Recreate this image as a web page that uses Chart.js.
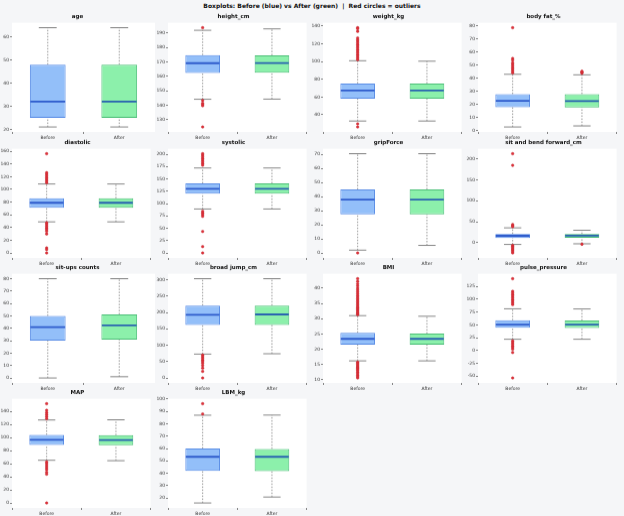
<!DOCTYPE html>
<html>
<head>
<meta charset="utf-8">
<script src="https://cdn.jsdelivr.net/npm/chart.js@4.4.1/dist/chart.umd.min.js"></script>
<style>
  body { margin: 0; width: 624px; height: 516px; overflow: hidden; position: relative; background: #f5f6f8; font-family: "DejaVu Sans", sans-serif; }
  #title { position: absolute; top: 0; left: 0; width: 624px; text-align: center; font-weight: bold; font-size: 6px; line-height: 11px; color: #111; white-space: pre; }
  canvas { position: absolute; }
</style>
</head>
<body>
<div id="title">Boxplots: Before (blue) vs After (green)  |  Red circles = outliers</div>
<script>
const groups = ["Before", "After"];
const titles = ["age", "height_cm", "weight_kg", "body fat_%",
                "diastolic", "systolic", "gripForce", "sit and bend forward_cm",
                "sit-ups counts", "broad jump_cm", "BMI", "pulse_pressure",
                "MAP", "LBM_kg"];

// [lower whisker, Q1, median, Q3, upper whisker]
const beforeBox = [
  [21, 25, 32, 48, 64],
  [144.2, 162.4, 169.2, 174.8, 192.0],
  [33.0, 58.2, 67.4, 75.3, 100.9],
  [3.0, 18.0, 22.8, 28.0, 43.0],
  [49, 71, 79, 86, 108.5],
  [89, 120, 130, 141, 172],
  [2.0, 27.5, 37.9, 45.2, 70.5],
  [-4.5, 10.9, 16.2, 20.7, 35.3],
  [0, 30, 41, 50, 80],
  [73, 162, 193, 221, 303],
  [16.2, 21.5, 23.4, 25.4, 31.0],
  [22, 44.5, 50.6, 59, 81.3],
  [65.2, 88.4, 96.5, 104, 126.7],
  [16, 42, 53.3, 60, 86.9]
];
const afterBox = [
  [21, 25, 32, 48, 64],
  [144.3, 162.5, 169.3, 174.7, 193.0],
  [33.0, 58.2, 67.3, 75.3, 100.4],
  [3.8, 17.8, 22.6, 28.0, 42.6],
  [49, 71, 79, 86, 108.5],
  [89, 120, 130, 141, 172],
  [5.4, 27.5, 37.9, 45.2, 70.5],
  [-3, 11.2, 16.5, 20.5, 29.5],
  [1, 31, 42.4, 51.3, 80],
  [74, 162, 194, 221, 303],
  [16.2, 21.5, 23.4, 25.1, 30.8],
  [22, 44, 50.6, 58.5, 81],
  [64.6, 88, 96, 103.5, 127],
  [20.8, 41.7, 53.3, 59.7, 87]
];

const beforeOut = [
  [],
  [193.8, 143.3, 141.5, 140.6, 139.7, 125.0],
  [138.1, 137.0, 134.0, 126.5, 124.6, 122.8, 120.9, 119.0, 117.2, 115.3, 113.4, 111.5, 109.7, 107.8, 105.9, 104.0, 102.2, 29.8, 26.3],
  [78.4, 55.0, 53.7, 51.7, 50.5, 49.2, 47.9, 46.7, 45.4, 44.1],
  [156.2, 126.3, 123.7, 121, 118.4, 115.8, 113.2, 110.5, 47.4, 44.7, 42.1, 39.5, 36.8, 34.2, 30, 7.9, 5.3, 0],
  [201, 198, 194.6, 191.2, 187.8, 184.4, 181, 177.6, 84.4, 81, 77.6, 74.1, 43.5, 12.9, 0],
  [0],
  [213, 185, 43, 40.5, 38, -7, -9, -12, -15, -18, -22, -25],
  [],
  [70, 65, 60, 55, 50, 45, 38, 30, 20, 0],
  [31.3, 31.6, 32, 32.4, 32.8, 33.2, 33.6, 34, 34.5, 35, 35.5, 36, 36.5, 37, 37.6, 38.2, 38.8, 39.4, 40, 40.7, 41.4, 42.2, 43.1,
   15.8, 15.4, 15, 14.6, 14.2, 13.8, 13.4, 13, 12.5, 12, 11.5, 11, 10.6],
  [140, 115.5, 112.3, 109, 105.8, 102.6, 99.4, 96.1, 92.9, 89.7, 18.7, 15.5, 12.3, 9, 5.8, 2.6, -3.9, -53.5],
  [151.6, 141.5, 138, 135, 132, 128.8, 62.6, 60, 57, 54, 51, 47, 44, 0],
  [96.2, 87.9]
];
const afterOut = [
  [], [], [], [43.8, 44.3, 44.8, 45.3], [], [], [], [-4], [], [], [], [], [], []
];

const yTicks = [
  [20, 30, 40, 50, 60],
  [130, 140, 150, 160, 170, 180, 190],
  [40, 60, 80, 100, 120, 140],
  [0, 10, 20, 30, 40, 50, 60, 70, 80],
  [0, 20, 40, 60, 80, 100, 120, 140, 160],
  [0, 25, 50, 75, 100, 125, 150, 175, 200],
  [0, 10, 20, 30, 40, 50, 60, 70],
  [0, 50, 100, 150, 200],
  [0, 10, 20, 30, 40, 50, 60, 70, 80],
  [0, 50, 100, 150, 200, 250, 300],
  [10, 15, 20, 25, 30, 35, 40],
  [-50, -25, 0, 25, 50, 75, 100, 125],
  [0, 20, 40, 60, 80, 100, 120, 140],
  [20, 30, 40, 50, 60, 70, 80, 90, 100]
];

const FONT = "'DejaVu Sans', sans-serif";
const fills = ["#93bff9", "#8cf0ab"];
const edges = ["#5a8de6", "#4cbf78"];
const medians = ["#2f5ccc", "#2a64b0"];

// grid geometry (plot areas)
const colLeft = [12, 168, 323, 478];
const rowTop = [23, 149, 274, 399];
const plotW = 142, plotH = 109;
const axisW = 12, titleH = 10.6, xAxisH = 9;

// whiskers, caps, medians and panel background
const boxParts = {
  id: "boxParts",
  beforeDraw(chart) {
    const a = chart.chartArea, ctx = chart.ctx;
    ctx.save();
    ctx.fillStyle = "#ffffff";
    ctx.fillRect(a.left, a.top, a.right - a.left, a.bottom - a.top);
    ctx.restore();
  },
  beforeDatasetsDraw(chart, args, opts) {
    const ctx = chart.ctx, y = chart.scales.y;
    const bars = chart.getDatasetMeta(0).data;
    ctx.save();
    opts.stats.forEach((s, j) => {
      const bx = bars[j].x, half = bars[j].width / 4;
      ctx.strokeStyle = "#9a9a9a";
      ctx.lineWidth = 1;
      ctx.setLineDash([1.5, 1.5]);
      ctx.beginPath();
      ctx.moveTo(bx, y.getPixelForValue(s[0]));
      ctx.lineTo(bx, y.getPixelForValue(s[1]));
      ctx.moveTo(bx, y.getPixelForValue(s[3]));
      ctx.lineTo(bx, y.getPixelForValue(s[4]));
      ctx.stroke();
      ctx.setLineDash([]);
      ctx.strokeStyle = "#888888";
      ctx.beginPath();
      [s[0], s[4]].forEach(v => {
        const py = y.getPixelForValue(v);
        ctx.moveTo(bx - half, py);
        ctx.lineTo(bx + half, py);
      });
      ctx.stroke();
    });
    ctx.restore();
  },
  afterDatasetsDraw(chart, args, opts) {
    const ctx = chart.ctx, y = chart.scales.y;
    const bars = chart.getDatasetMeta(0).data;
    ctx.save();
    opts.stats.forEach((s, j) => {
      const bx = bars[j].x, hw = bars[j].width / 2 - 0.5;
      const py = y.getPixelForValue(s[2]);
      ctx.strokeStyle = medians[j];
      ctx.lineWidth = 1.8;
      ctx.beginPath();
      ctx.moveTo(bx - hw, py);
      ctx.lineTo(bx + hw, py);
      ctx.stroke();
    });
    ctx.restore();
  }
};

titles.forEach((name, i) => {
  const col = i % 4, row = Math.floor(i / 4);
  const cv = document.createElement("canvas");
  const w = axisW + plotW + 1, h = titleH + plotH + xAxisH;
  cv.width = w; cv.height = h;
  cv.style.width = w + "px"; cv.style.height = h + "px";
  cv.style.left = (colLeft[col] - axisW) + "px";
  cv.style.top = (rowTop[row] - titleH) + "px";
  document.body.appendChild(cv);

  const b = beforeBox[i], a = afterBox[i];
  const points = beforeOut[i].map(v => ({ x: "Before", y: v }))
    .concat(afterOut[i].map(v => ({ x: "After", y: v })));
  const all = b.concat(a, beforeOut[i], afterOut[i]);
  const lo = Math.min(...all), hi = Math.max(...all), pad = (hi - lo) * 0.05;

  new Chart(cv, {
    type: "bar",
    data: {
      labels: groups,
      datasets: [
        {
          data: [[b[1], b[3]], [a[1], a[3]]],
          backgroundColor: fills,
          borderColor: edges,
          borderWidth: 1,
          borderSkipped: false,
          barPercentage: 0.5,
          categoryPercentage: 1,
          order: 2
        },
        {
          type: "line",
          data: points,
          showLine: false,
          pointRadius: 1.3,
          pointBackgroundColor: "#e0313a",
          pointBorderColor: "#c0282f",
          pointBorderWidth: 0.4,
          order: 1
        }
      ]
    },
    options: {
      responsive: false,
      animation: false,
      events: [],
      layout: { padding: 0 },
      plugins: {
        legend: { display: false },
        tooltip: { enabled: false },
        title: {
          display: true,
          text: name,
          color: "#111",
          font: { family: FONT, size: 5.5, weight: "bold" },
          padding: { top: 1, bottom: 3 }
        },
        boxParts: { stats: [b, a] }
      },
      scales: {
        x: {
          grid: { drawOnChartArea: false, tickLength: 2, color: "#888" },
          border: { display: false },
          ticks: { color: "#333", padding: 1, font: { family: FONT, size: 4.5 } },
          afterFit(s) { s.height = xAxisH; }
        },
        y: {
          min: lo - pad,
          max: hi + pad,
          grid: { drawOnChartArea: false, tickLength: 2, color: "#888" },
          border: { display: false },
          ticks: { color: "#333", padding: 1, font: { family: FONT, size: 4.5 } },
          afterBuildTicks(s) { s.ticks = yTicks[i].map(v => ({ value: v })); },
          afterFit(s) { s.width = axisW; }
        }
      }
    },
    plugins: [boxParts]
  });
});
</script>
</body>
</html>
